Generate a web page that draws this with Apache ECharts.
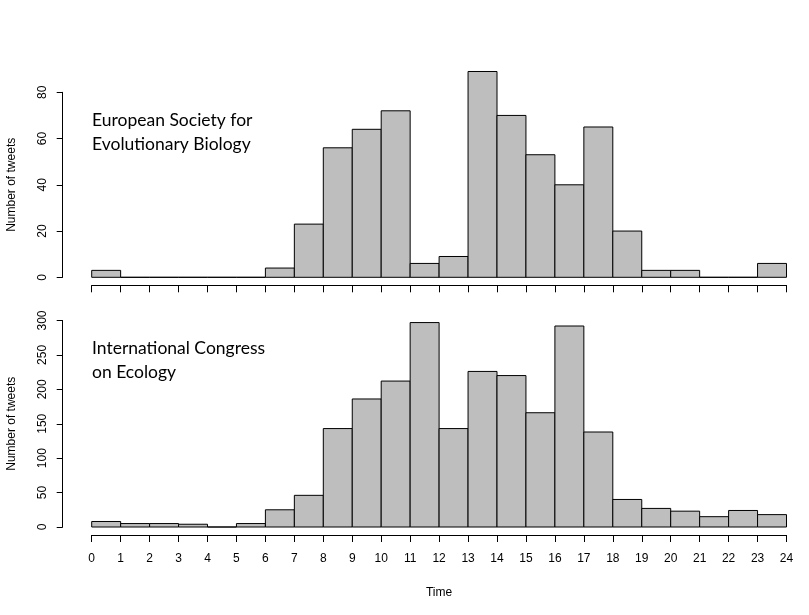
<!DOCTYPE html>
<html>
<head>
<meta charset="utf-8">
<script src="https://cdn.jsdelivr.net/npm/echarts@6/dist/echarts.min.js"></script>
<style>
  html, body { margin: 0; padding: 0; background: #fff; }
  #chart { width: 809px; height: 615px; }
</style>
</head>
<body>
<div id="chart"></div>
<script>
// Hour bins (start of each one-hour bin)
const binStarts = [0,1,2,3,4,5,6,7,8,9,10,11,12,13,14,15,16,17,18,19,20,21,22,23];
// Tweets per hour, European Society for Evolutionary Biology
const esebCounts = [3,0,0,0,0,0,4,23,56,64,72,6,9,89,70,53,40,65,20,3,3,0,0,6];
// Tweets per hour, International Congress on Ecology
const iceCounts = [8,5,5,4,0,5,25,46,143,186,212,297,143,226,220,166,292,138,40,27,23,15,24,18];

const panelTitles = [
  ['European Society for', 'Evolutionary Biology'],
  ['International Congress', 'on Ecology']
];

function toBins(counts) {
  return binStarts.map((s, i) => [s, s + 1, counts[i]]);
}

function renderBar(params, api) {
  const x0 = api.value(0), x1 = api.value(1), v = api.value(2);
  const p0 = api.coord([x0, 0]);
  const p1 = api.coord([x1, v]);
  return {
    type: 'rect',
    shape: { x: p0[0], y: p1[1], width: p1[0] - p0[0], height: p0[1] - p1[1] },
    style: { fill: '#bebebe', stroke: '#000', lineWidth: 1 }
  };
}

const axisFont = 'Liberation Sans, Arial, sans-serif';
const lineStyle = { color: '#000', width: 1 };

function xAxisCfg(idx, showLabels) {
  return {
    type: 'value', gridIndex: idx, min: 0, max: 24, interval: 1,
    offset: 8,
    axisLine: { show: true, onZero: false, lineStyle },
    axisTick: { show: true, length: 7, lineStyle },
    axisLabel: { show: showLabels, color: '#000', fontFamily: axisFont, fontSize: 12, margin: 18 },
    splitLine: { show: false },
    name: showLabels ? 'Time' : '',
    nameLocation: 'middle', nameGap: 52,
    nameTextStyle: { color: '#000', fontFamily: axisFont, fontSize: 12 }
  };
}

function yAxisCfg(idx, max, interval) {
  return {
    type: 'value', gridIndex: idx, min: 0, max: max, interval: interval,
    offset: 29,
    axisLine: { show: true, onZero: false, lineStyle },
    axisTick: { show: true, length: 6, lineStyle },
    axisLabel: { color: '#000', fontFamily: axisFont, fontSize: 12, rotate: 90, margin: 14 },
    splitLine: { show: false },
    name: 'Number of tweets', nameLocation: 'middle', nameRotate: 90, nameGap: 45,
    nameTextStyle: { color: '#000', fontFamily: axisFont, fontSize: 12 }
  };
}

const titleFont = 'Lato, "Open Sans", sans-serif';
function titleText(lines, x, y) {
  return lines.map((t, i) => ({
    type: 'text', left: x, top: y + i * 24,
    style: { text: t, fill: '#000', font: '17.5px ' + titleFont }
  }));
}

const chart = echarts.init(document.getElementById('chart'), null, { renderer: 'canvas' });
chart.setOption({
  animation: false,
  backgroundColor: '#fff',
  grid: [
    { left: 91.7, right: 22.5, top: 92.3, height: 185, outerBoundsMode: 'none', containLabel: false },
    { left: 91.7, right: 22.5, top: 320.5, height: 206.5, outerBoundsMode: 'none', containLabel: false }
  ],
  xAxis: [xAxisCfg(0, false), xAxisCfg(1, true)],
  yAxis: [yAxisCfg(0, 80, 20), yAxisCfg(1, 300, 50)],
  series: [
    { type: 'custom', xAxisIndex: 0, yAxisIndex: 0, clip: false, renderItem: renderBar,
      encode: { x: [0, 1], y: 2 }, data: toBins(esebCounts) },
    { type: 'custom', xAxisIndex: 1, yAxisIndex: 1, clip: false, renderItem: renderBar,
      encode: { x: [0, 1], y: 2 }, data: toBins(iceCounts) }
  ],
  graphic: [
    ...titleText(panelTitles[0], 92, 111),
    ...titleText(panelTitles[1], 92, 339)
  ]
});
</script>
</body>
</html>
